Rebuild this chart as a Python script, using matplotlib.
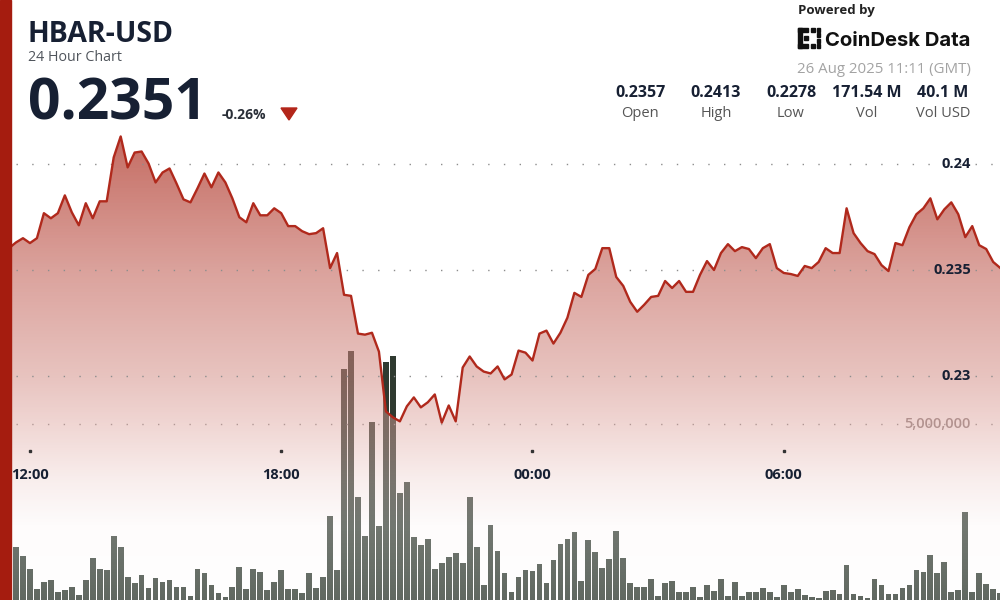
import numpy as np
import pandas as pd
import matplotlib
matplotlib.use("Agg")
import matplotlib.pyplot as plt
import matplotlib.dates as mdates
import matplotlib.transforms as mtransforms
from matplotlib.patches import Polygon, Rectangle

# 24h of 10-minute HBAR-USD candles (close price and volume)
times = pd.date_range("2025-08-25 11:30", periods=143, freq="10min")

price = [
    0.23603, 0.2363, 0.23650, 0.23627, 0.23650, 0.23768, 0.23744, 0.23768, 0.23852, 0.23772,
    0.23711, 0.23815, 0.23744, 0.23824, 0.23824, 0.24031, 0.2413, 0.23984, 0.24054, 0.24059,
    0.24002, 0.23913, 0.23960, 0.23979, 0.23908, 0.23833, 0.23819, 0.23885, 0.23955, 0.23890,
    0.23960, 0.23913, 0.23838, 0.23749, 0.23725, 0.23815, 0.23758, 0.23758, 0.23791, 0.23768,
    0.23707, 0.23707, 0.23683, 0.23669, 0.23674, 0.23697, 0.23509, 0.23580, 0.23383, 0.23378,
    0.23200, 0.23195, 0.23204, 0.23115, 0.22833, 0.22805, 0.22786, 0.22857, 0.22899, 0.22852,
    0.22876, 0.22913, 0.2278, 0.22861, 0.22786, 0.23040, 0.23092, 0.23045, 0.23021, 0.23012,
    0.23045, 0.22984, 0.23007, 0.23120, 0.23110, 0.23073, 0.23200, 0.23214, 0.23153, 0.23204,
    0.23275, 0.23392, 0.23373, 0.23477, 0.23505, 0.23603, 0.23603, 0.23467, 0.23425, 0.23350,
    0.23303, 0.23336, 0.23373, 0.23378, 0.23448, 0.23415, 0.23448, 0.23397, 0.23397, 0.23477,
    0.23542, 0.23500, 0.23580, 0.23622, 0.23589, 0.23608, 0.23599, 0.23556, 0.23603, 0.23622,
    0.23509, 0.23486, 0.23481, 0.23472, 0.23519, 0.23509, 0.23538, 0.23603, 0.23580, 0.23580,
    0.23791, 0.23674, 0.23627, 0.23589, 0.23575, 0.23523, 0.23495, 0.23627, 0.23617, 0.23702,
    0.23763, 0.23791, 0.23838, 0.23739, 0.23786, 0.23819, 0.23763, 0.23655, 0.23707, 0.23617,
    0.23599, 0.23538, 0.2351,
]

# volume in millions of HBAR
volume_m = [
    3.04, 1.51, 1.25, 0.88, 0.31, 0.51, 0.57, 0.23, 0.28, 0.37,
    0.14, 0.57, 1.19, 0.88, 0.85, 1.82, 1.51, 0.65, 0.48, 0.71,
    0.34, 0.63, 0.51, 0.57, 0.37, 0.37, 0.11, 0.88, 0.77, 0.43,
    0.20, 0.09, 0.37, 0.94, 0.31, 0.88, 0.80, 0.28, 0.51, 0.85,
    0.31, 0.31, 0.20, 0.77, 0.34, 0.65, 2.39, 0.85, 6.56, 7.07,
    2.93, 1.82, 5.06, 2.10, 6.76, 6.93, 3.04, 3.35, 1.79, 1.56,
    1.73, 0.88, 1.05, 1.22, 1.34, 1.05, 2.93, 1.51, 0.43, 2.13,
    1.39, 0.77, 0.23, 0.65, 0.85, 0.82, 1.02, 0.48, 1.14, 1.59,
    1.73, 1.93, 0.54, 1.70, 1.36, 0.91, 1.16, 1.96, 1.19, 0.48,
    0.37, 0.37, 0.60, 0.11, 0.48, 0.54, 0.23, 0.23, 0.37, 0.09,
    0.43, 0.26, 0.60, 0.11, 0.51, 0.11, 0.23, 0.23, 0.34, 0.23,
    0.09, 0.43, 0.23, 0.31, 0.14, 0.09, 0.06, 0.26, 0.28, 0.17,
    0.99, 0.17, 0.11, 0.06, 0.60, 0.43, 0.17, 0.17, 0.34, 0.43,
    0.85, 0.80, 1.28, 0.77, 1.08, 0.23, 0.28, 2.50, 0.23, 0.77,
    0.45, 0.31, 0.20,
]

price_ticks = [0.24, 0.235, 0.23]
price_tick_labels = ["0.24", "0.235", "0.23"]
vol_tick = 5_000_000
vol_tick_label = "5,000,000"
time_ticks = ["2025-08-25 12:00", "2025-08-25 18:00", "2025-08-26 00:00", "2025-08-26 06:00"]
time_tick_labels = ["12:00", "18:00", "00:00", "06:00"]
stat_values = ["0.2357", "0.2413", "0.2278", "171.54 M", "40.1 M"]
stat_names = ["Open", "High", "Low", "Vol", "Vol USD"]

plt.rcParams['font.family'] = ['Open Sans', 'DejaVu Sans']

W, H = 1000, 600
DARK = '#172033'
LINE_RED = '#b0291c'


def fx(px):
    return px / W


def fy(py):
    return 1 - py / H


# pixel layout of the scales
step_px = 6.98
x0_px = 9.0
px_per_price = 106 / 0.005
p_top = 0.235 + 270 / px_per_price
p_bot = 0.235 - 330 / px_per_price
vol_top = vol_tick * 600 / 176

xnum = mdates.date2num(times.to_pydatetime())
step_days = 10 / (24 * 60)
xl = xnum[0] - x0_px / step_px * step_days
xr = xnum[0] + (W - x0_px) / step_px * step_days

fig = plt.figure(figsize=(10, 6), dpi=100, facecolor='white')
ax_vol = fig.add_axes([0, 0, 1, 1])
ax_vol.set_axis_off()
ax = ax_vol.twinx()
ax.set_axis_off()

vol = np.array(volume_m) * 1e6
ax_vol.bar(xnum, vol, width=0.82 * step_days, color='#2f3a30', zorder=1)
ax_vol.axhline(vol_tick, xmin=16 / W, xmax=1, color='#8d8d8d', lw=1.0,
               linestyle=(0, (1.0, 10.32)), zorder=2)
ax_vol.set_xlim(xl, xr)
ax_vol.set_ylim(0, vol_top)

# gradient overlay below the price line, drawn on top of the volume bars
ys = np.arange(H) + 0.5
alpha = np.clip(0.82 - 0.58 * (ys - 130) / 470, 0.22, 0.82)
stop_y = [130, 160, 270, 376, 424, 480, 525, 600]
stop_c = np.array([(196, 100, 92), (201, 118, 109), (219, 162, 156), (232, 195, 191),
                   (240, 214, 211), (249, 238, 237), (254, 252, 252), (255, 255, 255)]) / 255
target = np.stack([np.interp(ys, stop_y, stop_c[:, k]) for k in range(3)], axis=1)
over = np.clip((target - (1 - alpha)[:, None]) / alpha[:, None], 0, 1)
rgba = np.zeros((H, 2, 4))
rgba[:, :, :3] = over[:, None, :]
rgba[:, :, 3] = alpha[:, None]

im = ax.imshow(rgba, extent=[xl, xr, p_bot, p_top], origin='upper', aspect='auto',
               interpolation='bilinear', zorder=2)
fill = ax.fill_between(xnum, price, p_bot, facecolor='none', edgecolor='none')
im.set_clip_path(fill.get_paths()[0], transform=ax.transData)

for p in price_ticks:
    ax.axhline(p, xmin=16 / W, xmax=1, color='#8d8d8d', lw=1.0,
               linestyle=(0, (1.0, 10.32)), zorder=3)

ax.plot(xnum, price, color=LINE_RED, lw=1.7, zorder=4, solid_joinstyle='round')
ax.set_xlim(xl, xr)
ax.set_ylim(p_bot, p_top)

# right-hand scale labels
for p, lab in zip(price_ticks, price_tick_labels):
    ax.text(fx(971), p, lab, transform=mtransforms.blended_transform_factory(fig.transFigure, ax.transData),
            ha='right', va='center', fontsize=10.5, fontweight='bold', color=DARK, zorder=6)
ax_vol.text(fx(971), vol_tick, vol_tick_label,
            transform=mtransforms.blended_transform_factory(fig.transFigure, ax_vol.transData),
            ha='right', va='center', fontsize=10.5, fontweight='semibold', color='#8e8383', zorder=6)

# time axis labels with small tick dots
tick_num = mdates.date2num(pd.to_datetime(time_ticks).to_pydatetime())
btrans = mtransforms.blended_transform_factory(ax.transData, fig.transFigure)
for t, lab in zip(tick_num, time_tick_labels):
    ax.text(t, fy(475), lab, transform=btrans, ha='center', va='center',
            fontsize=10.5, fontweight='bold', color=DARK, zorder=6)
    ax.plot([t], [fy(451)], marker='s', ms=1.6, color='#333333', transform=btrans,
            zorder=6, clip_on=False)

# left accent strip
fig.add_artist(Rectangle((0, 0), fx(11), 1, transform=fig.transFigure,
                         color='#a51c0f', zorder=10))

# header
fig.text(fx(28), fy(42), "HBAR-USD", fontsize=20.5, fontweight='bold', color=DARK, va='baseline')
fig.text(fx(28), fy(61), "24 Hour Chart", fontsize=10.3, color='#50555c', va='baseline')
fig.text(fx(28), fy(120), "0.2351", fontsize=41, fontweight='bold', color=DARK, va='baseline')
fig.text(fx(222), fy(119), "-0.26%", fontsize=10, fontweight='bold', color='#2a2f38', va='baseline')
fig.add_artist(Polygon([(fx(281), fy(108)), (fx(297), fy(108)), (fx(289), fy(120))],
                       closed=True, transform=fig.transFigure, color='#b3261a'))

# branding
fig.text(fx(798), fy(14), "Powered by", fontsize=9.5, fontweight='bold', color='#222222', va='baseline')
for (x, y, w, h) in [(798, 28, 3.5, 20), (798, 28, 10, 3.5), (798, 44.5, 10, 3.5),
                     (804, 36.5, 3.5, 3.5), (811, 28, 3.5, 3.5), (816.5, 28, 3.5, 3.5),
                     (811, 44.5, 3.5, 3.5), (816.5, 44.5, 3.5, 3.5),
                     (816.5, 33.5, 3.5, 3.5), (816.5, 39.5, 3.5, 3.5)]:
    fig.add_artist(Rectangle((fx(x), fy(y + h)), w / W, h / H, transform=fig.transFigure,
                             color='#111111'))
fig.text(fx(825), fy(46), "CoinDesk Data", fontsize=14.6, fontweight='bold', color='#111111',
         va='baseline', family=['Inter', 'DejaVu Sans'])
fig.text(fx(971), fy(73), "26 Aug 2025 11:11 (GMT)", fontsize=10.8, color='#a3a3a3',
         ha='right', va='baseline')

stat_x = [640, 716, 791, 867, 943]
for x, v, n in zip(stat_x, stat_values, stat_names):
    fig.text(fx(x), fy(97), v, fontsize=11.5, fontweight='bold', color=DARK, ha='center', va='baseline')
    fig.text(fx(x), fy(117), n, fontsize=10.5, color='#555555', ha='center', va='baseline')

fig.savefig("out.png", dpi=100, facecolor='white')
